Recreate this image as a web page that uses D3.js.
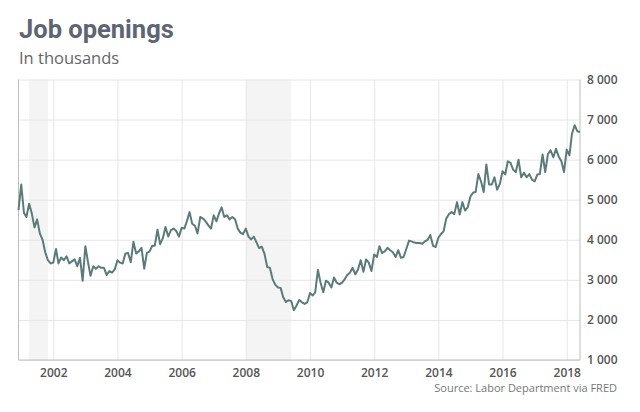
<!DOCTYPE html>
<html><head><meta charset="utf-8">
<script src="https://cdn.jsdelivr.net/npm/d3@7"></script>
<style>body{margin:0;background:#fff}svg{display:block}</style>
</head><body><svg id="c" width="640" height="412"></svg>
<script>
const startMonth = "2000-12";
const openings = [
4740,5380,4670,4570,4900,4660,4310,4510,4160,4000,3690,3490,
3410,3430,3770,3410,3560,3490,3590,3410,3460,3510,3340,3550,
2980,3840,3430,3100,3340,3280,3340,3300,3300,3120,3220,3180,
3260,3490,3430,3410,3660,3670,3440,3950,3660,3710,3800,3280,
3670,3710,3850,3850,4250,3890,4040,4320,4080,4240,4280,4220,
4080,4300,4280,4460,4690,4400,4350,4160,4570,4530,4460,4360,
4280,4610,4460,4650,4810,4570,4610,4510,4570,4510,4280,4180,
4140,4280,4080,4010,4080,3940,3790,3830,3650,3320,3300,3020,
2880,2810,2800,2570,2450,2490,2470,2240,2360,2500,2440,2400,
2440,2670,2610,2690,3250,2930,2690,2980,2930,2810,3060,2930,
2890,2930,3020,3120,3180,3300,3140,3260,3490,3200,3510,3430,
3220,3630,3570,3840,3670,3710,3800,3740,3690,3570,3740,3550,
3570,3770,3980,3960,3930,3920,3920,3900,3960,4000,4120,3850,
3820,4050,4150,4210,4530,4640,4690,4640,4940,4630,4940,4730,
4810,5080,5180,5190,5640,5460,5190,5880,5380,5380,5560,5250,
5390,5710,5630,5960,5920,5750,5690,6000,5560,5670,5560,5640,
5500,5460,5630,5640,6130,5690,6140,6230,6060,6270,6080,5960,
5690,6250,6110,6640,6860,6710,6690];
const recessions = [["2001-04","2001-11"],["2008-01","2009-06"]];
const yTicks = [1000,2000,3000,4000,5000,6000,7000,8000];
const xTickYears = [2002,2004,2006,2008,2010,2012,2014,2016,2018];
const titleText = "Job openings";
const subtitleText = "In thousands";
const sourceText = "Source: Labor Department via FRED";

const parseM = d3.timeParse("%Y-%m");
const start = parseM(startMonth);
const data = openings.map((v,i)=>({date:d3.timeMonth.offset(start,i), value:v}));

const svg = d3.select("#c");
const L=18.5, R=580, T=79.5, B=360;
const x = d3.scaleTime().domain([data[0].date, data[data.length-1].date]).range([L,R]);
const y = d3.scaleLinear().domain([1000,8000]).range([B,T]);
const fmt = d3.formatLocale({decimal:".",thousands:" ",grouping:[3],currency:["",""]}).format(",");

// recessions
svg.append("g").selectAll("rect").data(recessions).join("rect")
  .attr("x",d=>x(parseM(d[0]))).attr("y",T)
  .attr("width",d=>x(parseM(d[1]))-x(parseM(d[0]))).attr("height",B-T)
  .attr("fill","#f4f4f4");

// grid
const yAxis = svg.append("g").attr("transform",`translate(${R},0)`)
  .call(d3.axisRight(y).tickValues(yTicks).tickSize(-(R-L)).tickPadding(7).tickFormat(fmt));
yAxis.select(".domain").remove();
yAxis.selectAll(".tick line").attr("stroke","#e6e6e6");
yAxis.selectAll(".tick text").attr("fill","#555").style("font-family","'Open Sans'").style("font-weight","600").style("font-size","12px").attr("x",7);

const xAxis = svg.append("g").attr("transform",`translate(0,${B})`)
  .call(d3.axisBottom(x).tickValues(xTickYears.map(yr=>new Date(yr,0,1))).tickSize(-(B-T)).tickPadding(8).tickFormat(d3.timeFormat("%Y")));
xAxis.select(".domain").remove();
xAxis.selectAll(".tick line").attr("stroke","#e6e6e6");
xAxis.selectAll(".tick text").attr("fill","#555").style("font-family","'Open Sans'").style("font-weight","600").style("font-size","12px");

// frame
svg.append("path").attr("d",`M${L},${T}V${B}H${R}V${T}`).attr("fill","none").attr("stroke","#bdbdbd").attr("stroke-width",1);

// line
svg.append("path").datum(data)
  .attr("d",d3.line().x(d=>x(d.date)).y(d=>y(d.value)))
  .attr("fill","none").attr("stroke","#5b7b7b").attr("stroke-width",2).attr("stroke-linejoin","round");

// texts
svg.append("text").attr("x",19).attr("y",38).text(titleText)
  .attr("fill","#5e6572").style("font-family","Roboto").style("font-weight","700").style("font-size","25.5px");
svg.append("text").attr("x",19).attr("y",64).text(subtitleText)
  .attr("fill","#666").style("font-family","'Open Sans'").style("font-size","16.5px");
svg.append("text").attr("x",617).attr("y",392).attr("text-anchor","end").text(sourceText)
  .attr("fill","#777").style("font-family","'Open Sans'").style("font-size","11px");
</script></body></html>
